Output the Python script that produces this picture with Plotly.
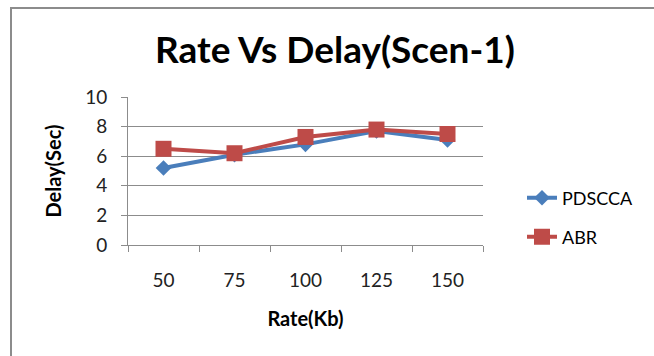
import plotly.graph_objects as go

rates = ["50", "75", "100", "125", "150"]
pdscca_delay = [5.2, 6.1, 6.8, 7.7, 7.1]
abr_delay = [6.5, 6.2, 7.3, 7.8, 7.5]
y_ticks = [0, 2, 4, 6, 8, 10]

W, H = 654, 356
L, R, T, B = 128, 483, 97, 245
FONT = "Lato"
GRID = "#8c8c8c"


def px(x):
    return (x - L) / (R - L)


def py(y):
    return (B - y) / (B - T)


fig = go.Figure()
fig.add_trace(go.Scatter(
    x=rates, y=pdscca_delay, name="PDSCCA", mode="lines+markers",
    line=dict(color="#4A7EBB", width=4),
    marker=dict(symbol="diamond", size=12, color="#4A7EBB"),
    legend="legend",
))
fig.add_trace(go.Scatter(
    x=rates, y=abr_delay, name="ABR", mode="lines+markers",
    line=dict(color="#BE4B48", width=4),
    marker=dict(symbol="square", size=16, color="#BE4B48"),
    legend="legend2",
))

legend_common = dict(
    xref="paper", yref="paper", xanchor="left", yanchor="middle",
    bgcolor="rgba(0,0,0,0)", font=dict(family=FONT, size=18, color="#000"),
    itemwidth=30, visible=True,
)

fig.update_layout(
    width=W, height=H, showlegend=True,
    margin=dict(l=L, r=W - R, t=T, b=H - B),
    paper_bgcolor="white", plot_bgcolor="white",
    title=dict(text="<b>Rate Vs Delay(Scen-1)</b>", x=335 / W, xanchor="center",
               y=1 - 50 / H, yanchor="middle",
               font=dict(family=FONT, size=37, color="#000")),
    xaxis=dict(
        type="category", range=[-0.5, 4.5], tickson="boundaries",
        ticks="outside", ticklen=6, tickcolor=GRID, showgrid=False,
        showline=True, linecolor=GRID, linewidth=1, ticklabelstandoff=18,
        tickfont=dict(family=FONT, size=19, color="#222"),
        title=dict(text="<b>Rate(Kb)</b>", standoff=22,
                   font=dict(family=FONT, size=20, color="#000")),
    ),
    yaxis=dict(
        range=[0, 10], tickvals=y_ticks, ticks="outside", ticklen=6,
        tickcolor=GRID, showgrid=True, gridcolor=GRID, gridwidth=1,
        showline=True, linecolor=GRID, linewidth=1, zeroline=False,
        ticklabelstandoff=10,
        tickfont=dict(family=FONT, size=19, color="#222"),
        title=dict(text="<b>Delay(Sec)</b>", standoff=18,
                   font=dict(family=FONT, size=20, color="#000")),
    ),
    legend=dict(x=px(522), y=py(198), **legend_common),
    legend2=dict(x=px(522), y=py(237), **legend_common),
    shapes=[
        dict(type="line", xref="paper", yref="paper",
             x0=px(11), x1=px(11), y0=py(7), y1=py(H + 5),
             line=dict(color="#8c8c8c", width=2)),
        dict(type="line", xref="paper", yref="paper",
             x0=px(10), x1=px(W + 5), y0=py(8), y1=py(8),
             line=dict(color="#8c8c8c", width=2)),
    ],
)

fig.write_html("out.html")
